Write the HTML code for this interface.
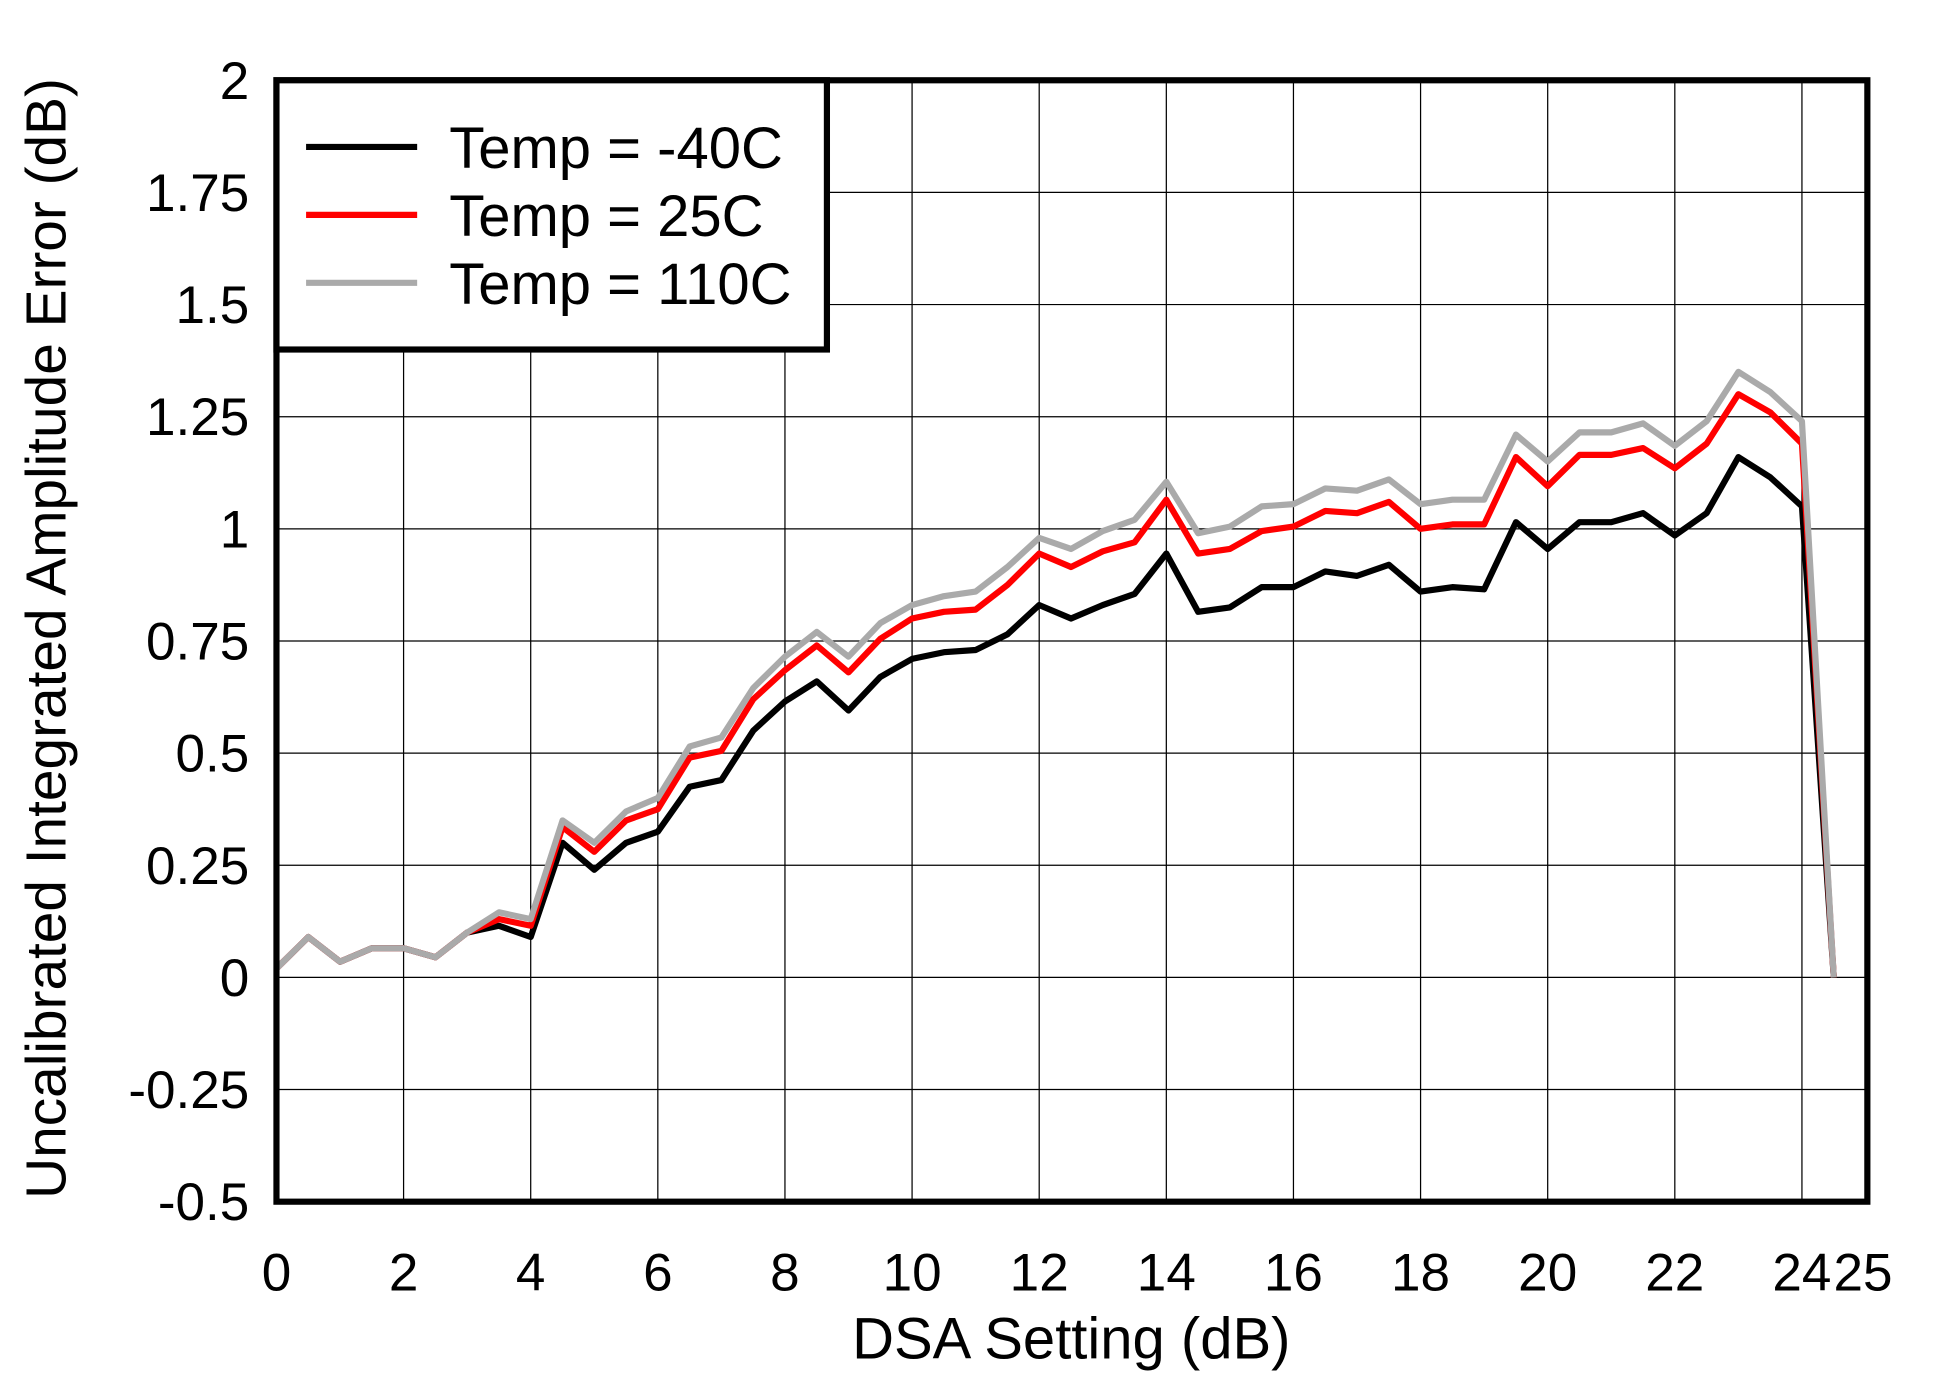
<!DOCTYPE html>
<html><head><meta charset="utf-8"><style>html,body{margin:0;padding:0;background:#fff}svg{display:block}</style></head>
<body>
<svg id="s" width="1934" height="1382" viewBox="0 0 1567 1119" preserveAspectRatio="none" xmlns="http://www.w3.org/2000/svg" font-family="Liberation Sans, sans-serif">
<g id="grid" stroke="#000" stroke-width="1"></g>
<g id="lab" font-size="43" fill="#000"></g>
<g id="ser" fill="none" stroke-width="5" stroke-linejoin="round"></g>
<rect x="224" y="65" width="1289" height="908" fill="none" stroke="#000" stroke-width="5"/>
<rect x="224" y="65" width="446" height="218" fill="#fff" stroke="#000" stroke-width="5"/>
<line x1="248" y1="119" x2="338" y2="119" stroke="#000" stroke-width="5"/>
<line x1="248" y1="174" x2="338" y2="174" stroke="#f00" stroke-width="5"/>
<line x1="248" y1="229" x2="338" y2="229" stroke="#aaa" stroke-width="5"/>
<g font-size="47" fill="#000">
<text x="364" y="136">Temp = -40C</text>
<text x="364" y="191">Temp = 25C</text>
<text x="364" y="246">Temp = 110C</text>
</g>
<text x="868" y="1100" font-size="47" text-anchor="middle">DSA Setting (dB)</text>
<text transform="translate(53,517) rotate(-90)" font-size="46" text-anchor="middle">Uncalibrated Integrated Amplitude Error (dB)</text>
</svg>
<script>
var NS="http://www.w3.org/2000/svg";
function X(v){return 224+v*51.5}function Y(v){return 65+(2-v)*363.2}
var g=document.getElementById('grid'),l=document.getElementById('lab'),se=document.getElementById('ser');
function el(p,t,a,txt){var e=document.createElementNS(NS,t);for(var k in a)e.setAttribute(k,a[k]);if(txt)e.textContent=txt;p.appendChild(e);return e}
for(var i=0;i<=24;i+=2){el(g,'line',{x1:X(i),y1:65,x2:X(i),y2:973});el(l,'text',{x:X(i),y:1045,'text-anchor':'middle'},''+i);}
el(l,'text',{x:X(25)-2,y:1045,'text-anchor':'middle'},'25');
var yl=['2','1.75','1.5','1.25','1','0.75','0.5','0.25','0','-0.25','-0.5'];
for(var j=0;j<11;j++){var v=2-j*0.25;el(g,'line',{x1:224,y1:Y(v),x2:1513,y2:Y(v)});el(l,'text',{x:202,y:Y(v)+15,'text-anchor':'end'},yl[j]);}
var base=[0.02,0.09,0.035,0.065,0.065,0.045,0.1];
var B=base.concat([0.115,0.09,0.3,0.24,0.3,0.325,0.425,0.44,0.55,0.615,0.66,0.595,0.67,0.71,0.725,0.73,0.765,0.83,0.8,0.83,0.855,0.945,0.815,0.825,0.87,0.87,0.905,0.895,0.92,0.86,0.87,0.865,1.015,0.955,1.015,1.015,1.035,0.985,1.035,1.16,1.115,1.05,0]);
var R=base.concat([0.13,0.115,0.335,0.28,0.35,0.375,0.49,0.505,0.62,0.685,0.74,0.68,0.755,0.8,0.815,0.82,0.875,0.945,0.915,0.95,0.97,1.065,0.945,0.955,0.995,1.005,1.04,1.035,1.06,1.0,1.01,1.01,1.16,1.095,1.165,1.165,1.18,1.135,1.19,1.3,1.26,1.19,0]);
var G=base.concat([0.145,0.13,0.35,0.3,0.37,0.4,0.515,0.535,0.645,0.715,0.77,0.715,0.79,0.83,0.85,0.86,0.915,0.98,0.955,0.995,1.02,1.105,0.99,1.005,1.05,1.055,1.09,1.085,1.11,1.055,1.065,1.065,1.21,1.15,1.215,1.215,1.235,1.185,1.24,1.35,1.305,1.24,0]);
[[B,'#000'],[R,'#f00'],[G,'#aaa']].forEach(function(s){var p=s[0].map(function(v,i){return X(i*0.5).toFixed(1)+','+Y(v).toFixed(1)}).join(' ');el(se,'polyline',{points:p,stroke:s[1]});});
</script>
</body></html>
